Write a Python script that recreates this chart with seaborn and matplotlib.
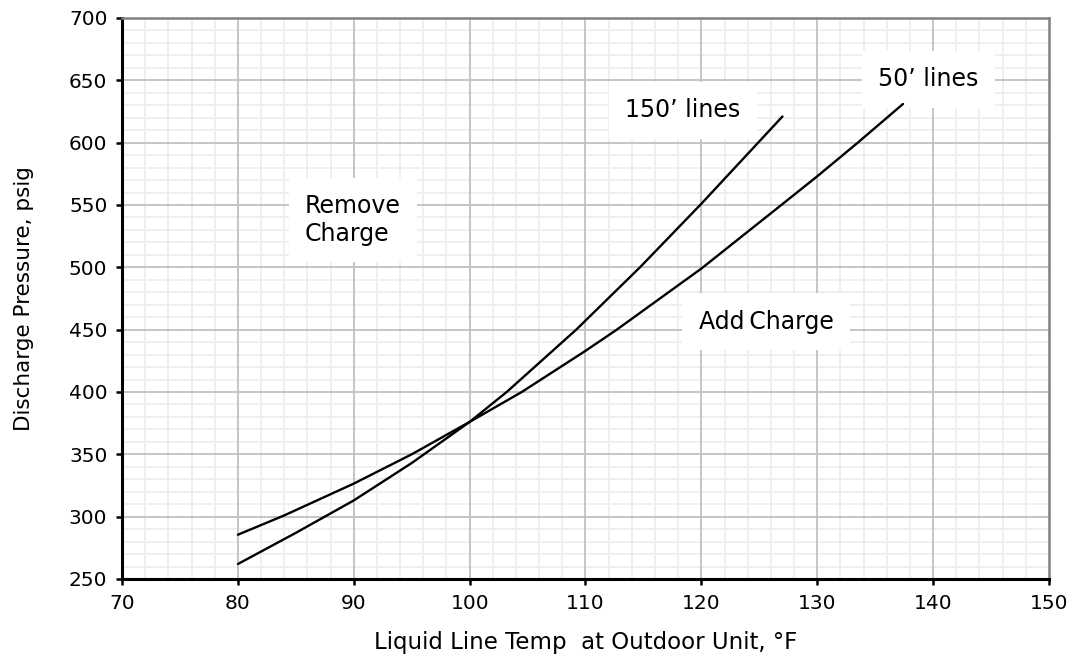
import numpy as np
import pandas as pd
import matplotlib
matplotlib.use("Agg")
import matplotlib.pyplot as plt
from matplotlib.ticker import MultipleLocator
import seaborn as sns

# Readings (liquid line temp F -> discharge psig)
temp_50 = [80, 84, 90, 95, 100, 104.5, 110, 112.7, 120, 126.9, 130, 133.5, 137.4]
psig_50 = [285.5, 301, 326.5, 350, 376, 400, 433, 450, 499, 550, 573, 600, 631]

temp_150 = [80, 85, 90, 95, 100, 103.2, 109.2, 114.7, 120, 124.8, 127]
psig_150 = [262, 287, 313, 343, 376, 400, 450, 500, 551, 599, 621]

df = pd.concat([
    pd.DataFrame({"temp": temp_50, "psig": psig_50, "line": "50' lines"}),
    pd.DataFrame({"temp": temp_150, "psig": psig_150, "line": "150' lines"}),
])

sns.set_style("white")
plt.rcParams["font.family"] = ["DejaVu Sans"]
plt.rcParams["text.color"] = "black"
plt.rcParams["axes.labelcolor"] = "black"
plt.rcParams["xtick.color"] = "black"
plt.rcParams["ytick.color"] = "black"

fig = plt.figure(figsize=(10.75, 6.56), dpi=100)
ax = fig.add_axes([0.1135, 0.1174, 0.8623, 0.8552])

sns.lineplot(
    data=df, x="temp", y="psig", units="line", estimator=None,
    sort=False, color="black", linewidth=1.7, ax=ax, zorder=4,
)

ax.set_xlim(70, 150)
ax.set_ylim(250, 700)
ax.xaxis.set_major_locator(MultipleLocator(10))
ax.xaxis.set_minor_locator(MultipleLocator(2))
ax.yaxis.set_major_locator(MultipleLocator(50))
ax.yaxis.set_minor_locator(MultipleLocator(10))

# light minor grid, darker major grid drawn on top of it
ax.grid(which="minor", color="#efefef", linewidth=1.4)
ax.grid(which="major", visible=False)
ax.set_axisbelow(True)
for xv in ax.get_xticks():
    if 70 < xv < 150:
        ax.axvline(xv, color="#c0c0c0", linewidth=1.3, zorder=1)
for yv in ax.get_yticks():
    if 250 < yv < 700:
        ax.axhline(yv, color="#c0c0c0", linewidth=1.3, zorder=1)

for side in ["left", "bottom"]:
    ax.spines[side].set_color("black")
    ax.spines[side].set_linewidth(2.2)
for side in ["top", "right"]:
    ax.spines[side].set_color("#808080")
    ax.spines[side].set_linewidth(1.8)

ax.tick_params(which="major", direction="out", length=4.5, width=1.8,
               color="black", labelcolor="black", labelsize=14.5,
               bottom=True, left=True, top=False, right=False, pad=6)
ax.tick_params(which="minor", length=0)

ax.set_xlabel("Liquid Line Temp  at Outdoor Unit, °F", fontsize=16.5,
              labelpad=13, color="black")
ax.set_ylabel("Discharge Pressure, psig", fontsize=15.5, labelpad=25,
              color="black")

box = dict(boxstyle="square,pad=0.7", fc="white", ec="none")
ax.text(118.4, 626, "150\u2019 lines", fontsize=17, ha="center", va="center",
        bbox=box, zorder=3, color="black")
ax.text(139.6, 651, "50\u2019 lines", fontsize=17, ha="center", va="center",
        bbox=box, zorder=3, color="black")
ax.text(85.8, 538, "Remove\nCharge", fontsize=17, ha="left", va="center",
        bbox=box, zorder=3, linespacing=1.2, color="black")
ax.text(125.6, 456.5, "Add\u2009Charge", fontsize=17, ha="center", va="center",
        bbox=box, zorder=3, color="black")

fig.savefig("out.png", dpi=100)
